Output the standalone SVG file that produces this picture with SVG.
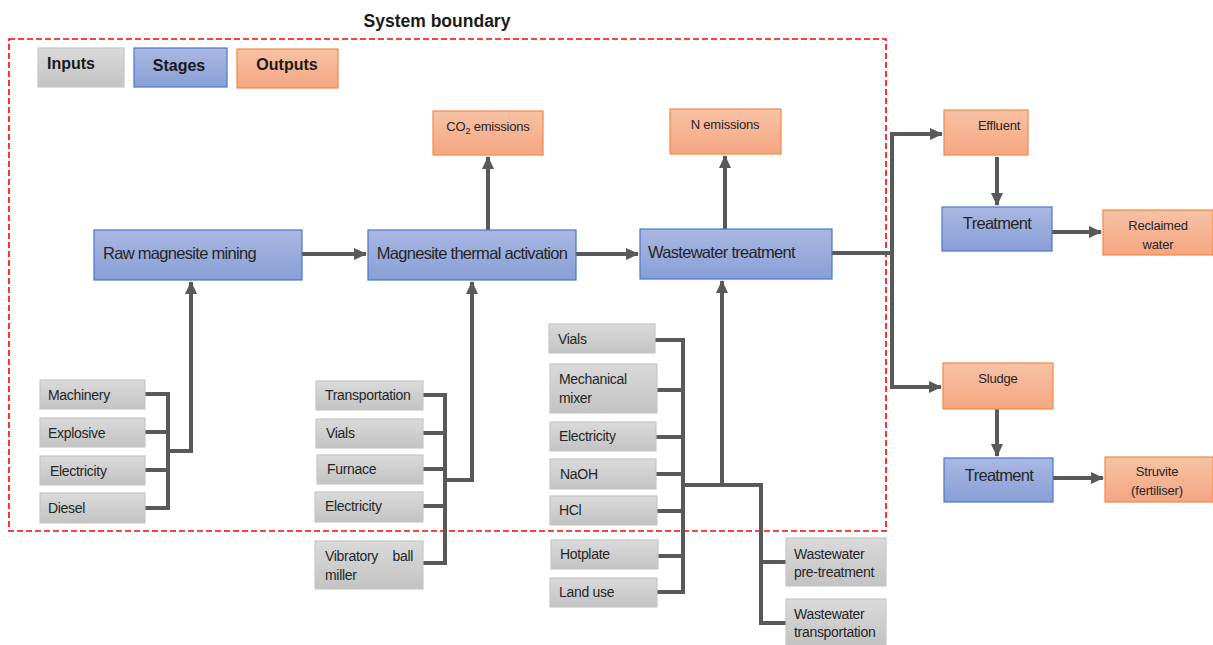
<svg xmlns="http://www.w3.org/2000/svg" width="1213" height="645" viewBox="0 0 1213 645">
<defs>
<linearGradient id="gIn" x1="0" y1="0" x2="0" y2="1"><stop offset="0" stop-color="#dadada"/><stop offset="1" stop-color="#c3c3c3"/></linearGradient>
<linearGradient id="gSt" x1="0" y1="0" x2="0" y2="1"><stop offset="0" stop-color="#aab8e2"/><stop offset="1" stop-color="#889fd6"/></linearGradient>
<linearGradient id="gOut" x1="0" y1="0" x2="0" y2="1"><stop offset="0" stop-color="#f8c2a5"/><stop offset="1" stop-color="#f4a681"/></linearGradient>
<marker id="ah" markerUnits="userSpaceOnUse" markerWidth="14" markerHeight="14" refX="12" refY="7" orient="auto"><path d="M0,1 L13,7 L0,13 Z" fill="#595959"/></marker>
<style>
.in{fill:url(#gIn);stroke:#c6c6c6;stroke-width:1.2}
.st{fill:url(#gSt);stroke:#4a78c8;stroke-width:1.2}
.out{fill:url(#gOut);stroke:#ef8a4a;stroke-width:1.2}
text{font-family:"Liberation Sans",Arial,sans-serif;fill:#262626}
.t14{font-size:14px;letter-spacing:-0.3px}
.t13{font-size:13px;letter-spacing:-0.2px}
.t16{font-size:16.5px;letter-spacing:-0.7px}
.lg{font-size:16px;font-weight:bold;fill:#1a1a1a}
.c{text-anchor:middle}
.ln{fill:none;stroke:#595959;stroke-width:4}
.arr{fill:none;stroke:#595959;stroke-width:4;marker-end:url(#ah)}
</style>
</defs>
<rect width="1213" height="645" fill="#ffffff"/>
<text x="437" y="27" class="lg c" style="font-size:17.5px">System boundary</text>
<rect x="9" y="39" width="877" height="492" fill="none" stroke="#ff0000" stroke-width="1.6" stroke-dasharray="6,3"/>
<g id="legend">
<rect x="38" y="48" width="86" height="39" class="in"/><text x="47" y="69" class="lg">Inputs</text>
<rect x="134" y="48" width="93" height="39" class="st"/><text x="179" y="71" class="lg c">Stages</text>
<rect x="237" y="49" width="101" height="39" class="out"/><text x="287" y="70" class="lg c">Outputs</text>
</g>
<g id="connectors">
<path class="arr" d="M302,254 H366"/>
<path class="arr" d="M576,254 H638"/>
<path class="arr" d="M488,230 V157"/>
<path class="arr" d="M725,229 V156"/>
<path class="ln" d="M832,253 H892"/>
<path class="arr" d="M892,387 V134 H942"/>
<path class="arr" d="M892,380 V387 H941"/>
<path class="arr" d="M997,157 V205"/>
<path class="arr" d="M1052,232 H1101"/>
<path class="arr" d="M997,409 V456"/>
<path class="arr" d="M1053,478 H1103"/>
<path class="ln" d="M145,394 H168 V508 H145 M145,432 H168 M145,470 H168"/>
<path class="arr" d="M168,451 H191 V282"/>
<path class="ln" d="M423,395 H445 V563 H423 M423,433 H445 M423,469 H445 M423,506 H445"/>
<path class="arr" d="M445,480 H472 V282"/>
<path class="ln" d="M655,340 H683 V592 H657 M657,390 H683 M656,437 H683 M656,474 H683 M657,511 H683 M658,556 H683"/>
<path class="arr" d="M683,485 H722 V281"/>
<path class="ln" d="M722,485 H761 V623 H786 M761,562 H786"/>
</g>
<g id="n-raw"><rect x="94" y="230" width="208" height="50" class="st"/><text x="103" y="259" class="t16">Raw magnesite mining</text></g>
<g id="n-thermal"><rect x="368" y="230" width="208" height="50" class="st"/><text x="472" y="259" class="t16 c">Magnesite thermal activation</text></g>
<g id="n-ww"><rect x="640" y="229" width="192" height="50" class="st"/><text x="648" y="258" class="t16">Wastewater treatment</text></g>
<g id="n-co2"><rect x="433" y="111" width="110" height="44" class="out"/><text x="488" y="131" class="t13 c">CO<tspan font-size="9" dy="3">2</tspan><tspan dy="-3"> emissions</tspan></text></g>
<g id="n-nem"><rect x="670" y="109" width="111" height="45" class="out"/><text x="725" y="129" class="t13 c">N emissions</text></g>
<g id="n-effluent"><rect x="944" y="110" width="84" height="45" class="out"/><text x="999" y="130" class="t13 c">Effluent</text></g>
<g id="n-treat1"><rect x="942" y="207" width="110" height="44" class="st"/><text x="997" y="229" class="t16 c">Treatment</text></g>
<g id="n-reclaimed"><rect x="1103" y="210" width="110" height="45" class="out"/><text x="1158" y="230" class="t13 c">Reclaimed</text><text x="1158" y="249" class="t13 c">water</text></g>
<g id="n-sludge"><rect x="943" y="363" width="110" height="46" class="out"/><text x="998" y="383" class="t13 c">Sludge</text></g>
<g id="n-treat2"><rect x="944" y="458" width="109" height="44" class="st"/><text x="999" y="481" class="t16 c">Treatment</text></g>
<g id="n-struvite"><rect x="1105" y="457" width="108" height="45" class="out"/><text x="1157" y="476" class="t13 c">Struvite</text><text x="1157" y="495" class="t13 c">(fertiliser)</text></g>
<g id="n-machinery"><rect x="40" y="380" width="105" height="29" class="in"/><text x="48" y="400" class="t14">Machinery</text></g>
<g id="n-explosive"><rect x="40" y="418" width="105" height="29" class="in"/><text x="48" y="438" class="t14">Explosive</text></g>
<g id="n-elec1"><rect x="40" y="456" width="105" height="29" class="in"/><text x="50" y="476" class="t14">Electricity</text></g>
<g id="n-diesel"><rect x="40" y="493" width="105" height="30" class="in"/><text x="48" y="513" class="t14">Diesel</text></g>
<g id="n-transport"><rect x="316" y="381" width="107" height="29" class="in"/><text x="325" y="400" class="t14">Transportation</text></g>
<g id="n-vials1"><rect x="316" y="419" width="107" height="29" class="in"/><text x="326" y="438" class="t14">Vials</text></g>
<g id="n-furnace"><rect x="317" y="455" width="106" height="29" class="in"/><text x="327" y="474" class="t14">Furnace</text></g>
<g id="n-elec2"><rect x="315" y="492" width="108" height="30" class="in"/><text x="325" y="511" class="t14">Electricity</text></g>
<g id="n-ballmill"><rect x="315" y="541" width="108" height="48" class="in"/><text x="325" y="561" class="t14">Vibratory</text><text x="413" y="561" class="t14" text-anchor="end">ball</text><text x="325" y="580" class="t14">miller</text></g>
<g id="n-vials2"><rect x="549" y="324" width="106" height="29" class="in"/><text x="558" y="344" class="t14">Vials</text></g>
<g id="n-mixer"><rect x="550" y="364" width="107" height="49" class="in"/><text x="559" y="384" class="t14">Mechanical</text><text x="559" y="403" class="t14">mixer</text></g>
<g id="n-elec3"><rect x="550" y="422" width="106" height="29" class="in"/><text x="559" y="441" class="t14">Electricity</text></g>
<g id="n-naoh"><rect x="550" y="459" width="106" height="30" class="in"/><text x="560" y="479" class="t14">NaOH</text></g>
<g id="n-hcl"><rect x="550" y="496" width="107" height="29" class="in"/><text x="559" y="515" class="t14">HCl</text></g>
<g id="n-hotplate"><rect x="551" y="540" width="107" height="29" class="in"/><text x="560" y="559" class="t14">Hotplate</text></g>
<g id="n-landuse"><rect x="550" y="578" width="107" height="29" class="in"/><text x="559" y="597" class="t14">Land use</text></g>
<g id="n-wwpre"><rect x="786" y="538" width="100" height="48" class="in"/><text x="794" y="559" class="t14">Wastewater</text><text x="794" y="577" class="t14">pre-treatment</text></g>
<g id="n-wwtrans"><rect x="786" y="599" width="100" height="46" class="in"/><text x="794" y="619" class="t14">Wastewater</text><text x="794" y="637" class="t14">transportation</text></g>
</svg>
